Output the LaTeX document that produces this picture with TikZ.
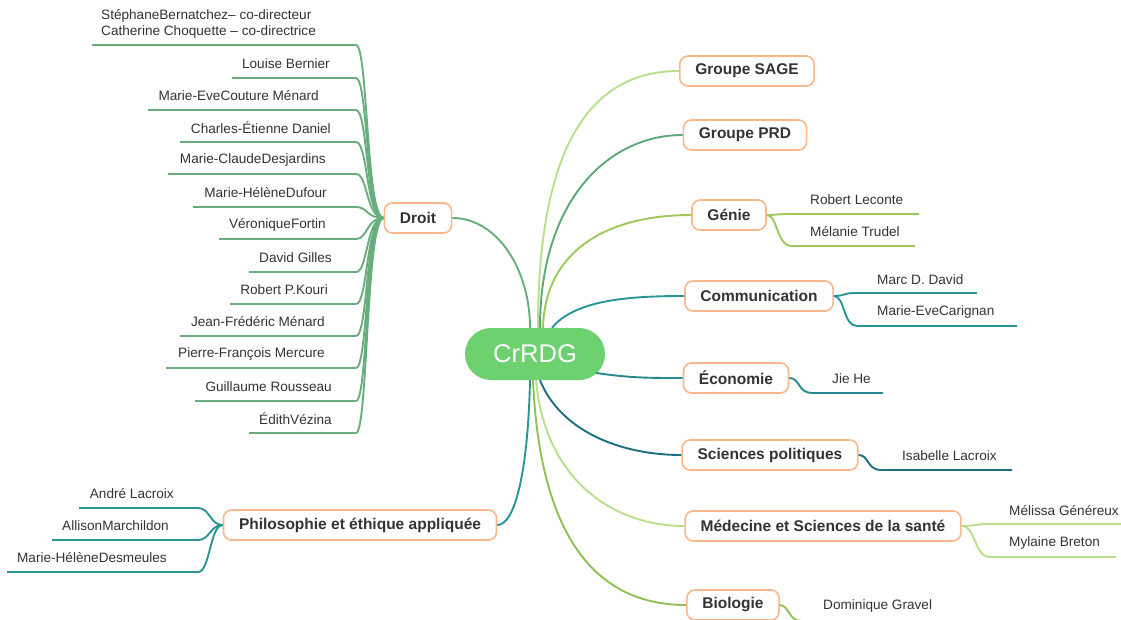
\documentclass[tikz,border=0pt]{standalone}
\usepackage{fontspec}
\setmainfont{Liberation Sans}
\usetikzlibrary{positioning}
\definecolor{crgreen}{RGB}{108,209,110}
\definecolor{boxorange}{RGB}{248,184,140}
\definecolor{txtgray}{RGB}{51,51,51}
\definecolor{droitgreen}{RGB}{104,174,124}
\definecolor{sagegreen}{RGB}{184,224,140}
\definecolor{prdgreen}{RGB}{92,168,120}
\definecolor{geniegreen}{RGB}{156,200,92}
\definecolor{commteal}{RGB}{40,150,150}
\definecolor{ecoteal}{RGB}{40,135,145}
\definecolor{sciteal}{RGB}{30,110,130}
\definecolor{philoteal}{RGB}{40,150,145}
\definecolor{medgreen}{RGB}{184,224,140}
\definecolor{biogreen}{RGB}{144,192,84}

\begin{document}
\begin{tikzpicture}[x=1pt,y=-1pt,
    every node/.style={inner sep=0pt,text=txtgray},
    branch/.style={draw=boxorange,line width=1.6pt,rounded corners=8pt,fill=white,
      inner xsep=15.5pt,minimum height=30pt,font=\fontsize{15.5}{18}\selectfont\bfseries},
    leaf/.style={font=\fontsize{13.6}{16}\selectfont},
    link/.style={line width=1.9pt}]
  \useasboundingbox (0,0) rectangle (1121,619);
  \clip (0,0) rectangle (1121,619);

  % centre
  \node[fill=crgreen,rounded corners=26pt,minimum width=140pt,minimum height=52pt,
    text=white,font=\fontsize{25.6}{30}\selectfont] (crrdg) at (535,354) {CrRDG};

  % branches
  \node[branch] (droit) at (418,218) {Droit};
  \node[branch] (philo) at (360,525) {Philosophie et éthique appliquée};
  \node[branch] (sage) at (747,71) {Groupe SAGE};
  \node[branch] (prd) at (745,135) {Groupe PRD};
  \node[branch] (genie) at (729,215) {Génie};
  \node[branch] (comm) at (759,296) {Communication};
  \node[branch] (eco) at (736,378) {Économie};
  \node[branch] (scipol) at (770,455) {Sciences politiques};
  \node[branch] (med) at (823,526) {Médecine et Sciences de la santé};
  \node[branch] (bio) at (733,605) {Biologie};

  % centre to branches
  \draw[link,droitgreen]([xshift=-5pt]crrdg.north) .. controls +(0,-58) and +(45,0) .. (droit.east);
  \draw[link,sagegreen]([xshift=3pt]crrdg.north) .. controls +(0,-178) and +(-91,0) .. (sage.west);
  \draw[link,prdgreen]([xshift=5pt]crrdg.north) .. controls +(0,-128) and +(-74,0) .. (prd.west);
  \draw[link,geniegreen]([xshift=8pt]crrdg.north) .. controls +(2,-78) and +(-83,0) .. (genie.west);
  \draw[link,commteal]([xshift=17pt]crrdg.north) .. controls +(23,-28) and +(-55,0) .. (comm.west);
  \draw[link,ecoteal]([xshift=-9pt,yshift=-19pt]crrdg.east) .. controls +(35,5) and +(-35,0) .. (eco.west);
  \draw[link,sciteal]([xshift=5pt]crrdg.south) .. controls +(20,50) and +(-62,0) .. (scipol.west);
  \draw[link,medgreen]([xshift=1pt]crrdg.south) .. controls +(9,100) and +(-71,0) .. (med.west);
  \draw[link,biogreen]([xshift=-2pt]crrdg.south) .. controls +(7,160) and +(-88,0) .. (bio.west);
  \draw[link,philoteal]([xshift=-5pt]crrdg.south) .. controls +(-2,90) and +(18,0) .. (philo.east);

  % Droit
  \node[leaf,anchor=west,align=left] (d45) at (101,24)
    {StéphaneBernatchez– co-directeur\\Catherine Choquette – co-directrice};
  \coordinate (dl45) at (92,45);
  \draw[link,droitgreen] (dl45) -- (356,45) .. controls (368,45) and (366,218) .. (droit.west);
  \foreach \y/\x/\r/\name in {78/232/330/Louise Bernier,110/148/319/Marie-EveCouture Ménard,
      142/180/331/Charles-Étienne Daniel,174/168/326/Marie-ClaudeDesjardins,
      207/193/327/Marie-HélèneDufour,239/219/326/VéroniqueFortin,272/249/332/David Gilles,
      304/230/328/Robert P.Kouri,336/180/325/Jean-Frédéric Ménard,368/166/325/Pierre-François Mercure,
      401/195/332/Guillaume Rousseau,433/249/332/ÉdithVézina}{
    \node[leaf,anchor=east] (d\y) at (\r,\y-14) {\name};
    \coordinate (dl\y) at (\x,\y);
    \draw[link,droitgreen] (dl\y) -- (356,\y) .. controls (368,\y) and (366,218) .. (droit.west);
  }

  % Philosophie
  \foreach \y/\x/\r/\name in {508/79/174/André Lacroix,540/52/169/AllisonMarchildon,
      572/7/167/Marie-HélèneDesmeules}{
    \node[leaf,anchor=east] (p\y) at (\r,\y-14) {\name};
    \coordinate (pl\y) at (\x,\y);
    \draw[link,philoteal] (pl\y) -- (198,\y) .. controls (210,\y) and (210,525) .. (philo.west);
  }

  % right side
  \node[leaf,anchor=west] (g1) at (810,200) {Robert Leconte};
  \node[leaf,anchor=west] (g2) at (810,232) {Mélanie Trudel};
  \coordinate (gl1) at (919,214);
  \coordinate (gl2) at (915,246);
  \draw[link,geniegreen] (genie.east) .. controls (778,215) and (776,214) .. (790,214) -- (gl1);
  \draw[link,geniegreen] (genie.east) .. controls (778,215) and (776,246) .. (792,246) -- (gl2);

  \node[leaf,anchor=west] (c1) at (877,280) {Marc D. David};
  \node[leaf,anchor=west] (c2) at (877,312) {Marie-EveCarignan};
  \coordinate (cl1) at (977,293);
  \coordinate (cl2) at (1017,326);
  \draw[link,commteal] (comm.east) .. controls (845,296) and (843,293) .. (855,293) -- (cl1);
  \draw[link,commteal] (comm.east) .. controls (845,296) and (843,326) .. (857,326) -- (cl2);

  \node[leaf,anchor=west] (e1) at (832,379) {Jie He};
  \coordinate (el1) at (883,393);
  \draw[link,ecoteal] (eco.east) .. controls (800,378) and (798,393) .. (812,393) -- (el1);

  \node[leaf,anchor=west] (s1) at (902,456) {Isabelle Lacroix};
  \coordinate (sl1) at (1012,470);
  \draw[link,sciteal] (scipol.east) .. controls (869,455) and (867,470) .. (881,470) -- (sl1);

  \node[leaf,anchor=west] (m1) at (1009,511) {Mélissa Généreux};
  \node[leaf,anchor=west] (m2) at (1009,543) {Mylaine Breton};
  \coordinate (ml1) at (1125,524);
  \coordinate (ml2) at (1116,557);
  \draw[link,medgreen] (med.east) .. controls (976,526) and (974,524) .. (988,524) -- (ml1);
  \draw[link,medgreen] (med.east) .. controls (976,526) and (974,557) .. (990,557) -- (ml2);

  \node[leaf,anchor=west] (b1) at (823,606) {Dominique Gravel};
  \coordinate (bl1) at (935,621);
  \draw[link,biogreen] (bio.east) .. controls (790,606) and (788,621) .. (802,621) -- (bl1);
\end{tikzpicture}
\end{document}
